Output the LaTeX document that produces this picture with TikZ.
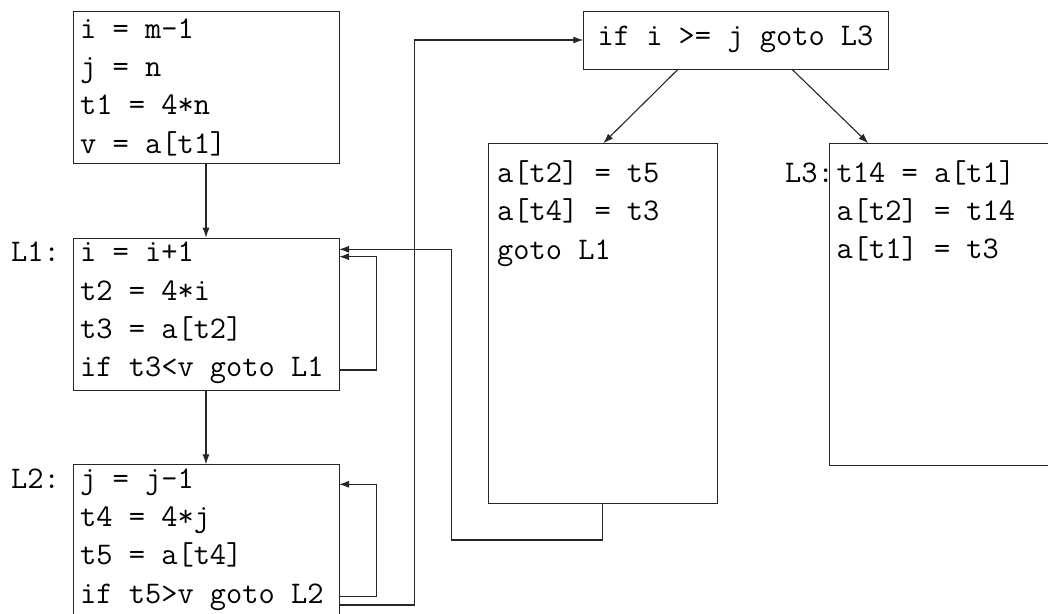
\documentclass[tikz,border=0pt]{standalone}
\usepackage{fontspec}
\usetikzlibrary{arrows.meta}
\tikzset{
  box/.style={draw=black!85, line width=1.1pt, anchor=north west, inner sep=0pt},
  code/.style={anchor=base west, inner sep=0pt, font=\ttfamily\fontsize{31.5}{38.3}\selectfont},
  codec/.style={anchor=base, inner sep=0pt, font=\ttfamily\fontsize{31.5}{38.3}\selectfont},
  conn/.style={draw=black!85, line width=1.1pt, -{Latex[length=10pt,width=7pt]}},
  plain/.style={draw=black!85, line width=1.1pt}
}
\begin{document}
\begin{tikzpicture}[x=1pt,y=-1pt]
\useasboundingbox (0,0) rectangle (1048,613);
\clip (0,0) rectangle (1048,613);
% boxes
\node[box, minimum width=266pt, minimum height=152pt] (b1) at (73,11) {};
\node[box, minimum width=266pt, minimum height=152.3pt] (b2) at (73,237.7) {};
\node[box, minimum width=266pt, minimum height=152pt] (b3) at (73,464.3) {};
\node[box, minimum width=304.4pt, minimum height=58pt] (top) at (583.3,11) {};
\node[box, minimum width=228.4pt, minimum height=360pt] (mid) at (488.3,143.3) {};
\node[box, minimum width=260pt, minimum height=322pt] (rgt) at (829.3,143.3) {};
% texts B1
\node[code] (b1a) at (80,38.3) {i = m-1};
\node[code] (b1b) at (80,76.6) {j = n};
\node[code] (b1c) at (80,114.9) {t1 = 4*n};
\node[code] (b1d) at (80,153.2) {v = a[t1]};
% B2
\node[code] (l1) at (11,261.7) {L1:};
\node[code] (b2a) at (80,261.7) {i = i+1};
\node[code] (b2b) at (80,300) {t2 = 4*i};
\node[code] (b2c) at (80,338.3) {t3 = a[t2]};
\node[code] (b2d) at (80,376.6) {if t3<v goto L1};
% B3
\node[code] (l2) at (11,488.3) {L2:};
\node[code] (b3a) at (80,488.3) {j = j-1};
\node[code] (b3b) at (80,526.6) {t4 = 4*j};
\node[code] (b3c) at (80,564.9) {t5 = a[t4]};
\node[code] (b3d) at (80,603.2) {if t5>v goto L2};
% top
\node[codec] (topt) at (735.5,45) {if i >= j goto L3};
% mid
\node[code] (ma) at (497,182.5) {a[t2] = t5};
\node[code] (mb) at (497,220.8) {a[t4] = t3};
\node[code] (mc) at (497,259.1) {goto L1};
% right
\node[code] (l3) at (785,182) {L3:};
\node[code] (ra) at (836.5,182) {t14 = a[t1]};
\node[code] (rb) at (836.5,220.3) {a[t2] = t14};
\node[code] (rc) at (836.5,258.6) {a[t1] = t3};
% connectors
\coordinate (b1s) at (206,163);
\coordinate (b2n) at (206,237.7);
\coordinate (b2s) at (206,390);
\coordinate (b3n) at (206,464.3);
\draw[conn] (b1s) -- (b2n);
\draw[conn] (b2s) -- (b3n);
% B2 self loop
\coordinate (b2o) at (339,370);
\coordinate (b2i) at (339,256.7);
\draw[conn] (b2o) -- (376.7,370) -- (376.7,256.7) -- (b2i);
% B3 self loop
\coordinate (b3o) at (339,596.7);
\coordinate (b3i) at (339,484.3);
\draw[conn] (b3o) -- (376.7,596.7) -- (376.7,484.3) -- (b3i);
% B3 to top
\coordinate (b3o2) at (339,605);
\coordinate (topw) at (583.3,40);
\draw[conn] (b3o2) -- (414.3,605) -- (414.3,40) -- (topw);
% mid back to L1
\coordinate (mids) at (602.7,503.3);
\coordinate (b2i2) at (339,249.3);
\draw[conn] (mids) -- (602.7,540) -- (451.7,540) -- (451.7,249.3) -- (b2i2);
% top to mid and right
\coordinate (tops1) at (678.3,69);
\coordinate (tops2) at (791.7,69);
\coordinate (midn) at (603.3,143.3);
\coordinate (rgtn) at (868.3,143.3);
\draw[conn] (tops1) -- (midn);
\draw[conn] (tops2) -- (rgtn);
\end{tikzpicture}
\end{document}
